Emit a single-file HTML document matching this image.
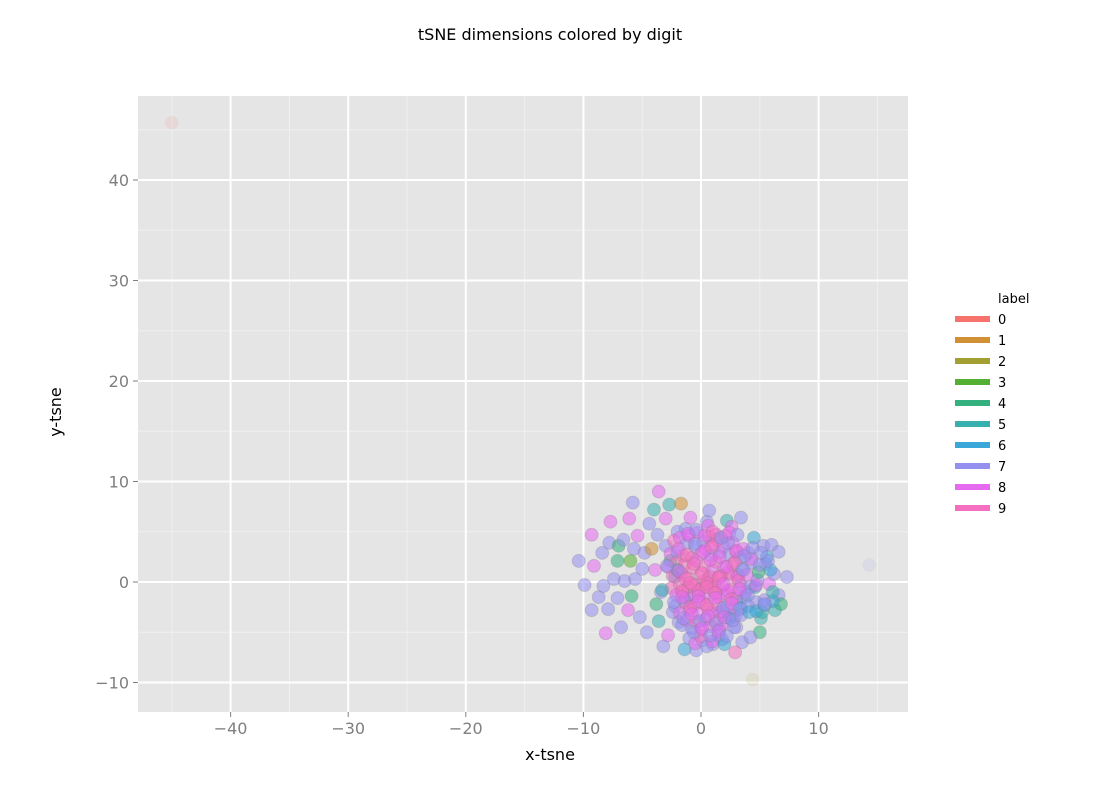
<!DOCTYPE html>
<html><head><meta charset="utf-8">
<style>
html,body{margin:0;padding:0;background:#fff;width:1100px;height:800px;overflow:hidden}
svg{display:block;font-family:"DejaVu Sans","Liberation Sans",sans-serif}
</style></head>
<body>
<svg id="chart" width="1100" height="800">
  <text x="550" y="40" text-anchor="middle" font-size="16" fill="#000">tSNE dimensions colored by digit</text>
  <rect x="138" y="96" width="770" height="616" fill="#e5e5e5"/>
  <g id="grid"></g>
  <g id="points"></g>
  <g id="axes"></g>
  <text x="550" y="760" text-anchor="middle" font-size="16" fill="#000">x-tsne</text>
  <text transform="translate(61,412) rotate(-90)" text-anchor="middle" font-size="16" fill="#000">y-tsne</text>
  <g id="legend">
    <text x="998" y="303" font-size="13" fill="#000">label</text>
  </g>
</svg>
<script>
const xTicks = [-40, -30, -20, -10, 0, 10];
const yTicks = [-10, 0, 10, 20, 30, 40];
const xMinor = [-45, -35, -25, -15, -5, 5, 15];
const yMinor = [-5, 5, 15, 25, 35, 45];
const labelNames = ['0','1','2','3','4','5','6','7','8','9'];
const labelColors = ['#f5736b','#d09033','#a3a033','#53b032','#33b07e','#38b0b0','#3ba6d8','#9590f0','#e66af0','#f46fbf'];

// scatter data (x-tsne, y-tsne, digit label)
const xs = [-45,14.3,4.4,
 -10.4,-9.9,-9.3,-9.3,-9.1,-8.7,-8.4,-8.3,-8.1,-7.9,-7.8,-7.7,-7.4,-7.1,-7.1,-7.0,-6.8,-6.6,-6.5,-6.2,-6.1,-6.0,-5.9,-5.8,-5.7,-5.6,-5.4,-5.2,-5.0,-4.8,-4.6,-4.4,-4.2,-4.0,-3.9,-3.8,-3.7,-3.6,-3.4,-3.2,-3.0,-2.8,-2.7,-2.6,-2.4,-2.2,-2.0,-1.7,-1.9,-1.4,-1.3,-1.2,
 0.5,0.6,1.0,1.3,1.6,2.2,2.6,3.0,3.4,3.5,4.0,4.5,4.7,5.0,5.3,5.8,6.0,6.3,6.6,6.6,7.3,5.5,3.2,2.5,-0.4,0.1,1.8,6.2,5.1,4.2,3.7,6.8,5.9,4.8,2.9,
 -3.0,-2.6,-2.3,-2.0,-1.8,-1.5,-1.2,-1.0,-0.8,-0.5,-0.3,0.0,0.2,0.4,0.7,0.9,1.1,1.4,1.6,1.9,2.1,2.4,2.7,3.0,3.3,3.6,
 -2.8,-2.4,-2.1,-1.7,-1.4,-1.1,-0.7,-0.4,0.0,0.3,0.6,1.0,1.3,1.7,2.0,2.3,2.7,3.1,3.5,3.9,4.3,
 -2.5,-2.1,-1.8,-1.5,-1.1,-0.8,-0.5,-0.2,0.1,0.4,0.8,1.1,1.5,1.8,2.2,2.6,3.0,3.4,3.8,4.2,
 -2.2,-1.8,-1.4,-1.0,-0.6,-0.2,0.2,0.6,1.0,1.4,1.8,2.2,2.6,3.0,3.4,
 -1.6,-1.2,-0.8,-0.4,0.0,0.4,0.8,1.2,1.6,2.0,2.4,2.8,
 -1.0,-0.5,0.0,0.5,1.0,1.5,2.0,-0.7,0.3,1.2,0.8,-0.2,0.5,1.6,2.3,3.2,-1.4,-2.0,4.6,5.2,5.6,6.1,4.9,5.4,-3.3,-3.6,-2.9,-0.9,0.7,2.9,
 -1.9,-1.3,-0.6,0.1,0.8,1.5,2.2,2.9,3.6,4.3,5.0,5.7,-1.6,-0.9,-0.2,0.5,1.2,1.9,2.6,3.3,4.0,4.7,5.4,6.1,
 -2.3,-1.6,-0.9,-0.2,0.5,1.2,1.9,2.6,3.3,4.0,4.7,5.4,-1.9,-1.2,-0.5,0.2,0.9,1.6,2.3,3.0,3.7,4.4,5.1,
 -1.5,-0.8,-0.1,0.6,1.3,2.0,2.7,3.4,4.1,-1.1,-0.4,0.3,1.0,1.7,2.4,3.1,-0.6,0.1,0.8,1.5,2.2];
const ys = [45.7,1.7,-9.7,
 2.1,-0.3,4.7,-2.8,1.6,-1.5,2.9,-0.4,-5.1,-2.7,3.9,6.0,0.3,-1.6,2.1,3.6,-4.5,4.2,0.1,-2.8,6.3,2.1,-1.4,7.9,3.3,0.3,4.6,-3.5,1.3,2.9,-5.0,5.8,3.3,7.2,1.2,-2.2,4.7,9.0,-1.0,-6.4,6.3,-5.3,7.7,2.1,-3.0,0.5,5.0,7.8,-4.0,-6.7,5.3,-1.5,
 6.0,5.6,-6.2,4.7,-3.0,6.1,5.5,-4.5,6.4,-6.0,2.9,4.4,-2.0,-5.0,3.6,-0.2,3.7,-2.8,-1.3,3.0,0.5,1.8,0.7,0.7,-6.8,-5.8,-5.7,0.8,-3.6,-5.5,-1.5,-2.2,1.2,0.2,-3.4,
 3.6,2.8,4.1,3.0,4.4,2.6,3.9,4.6,2.4,3.5,4.9,2.8,4.0,3.2,4.5,2.6,3.7,4.2,2.9,3.5,4.6,2.7,3.9,3.0,2.4,3.3,
 1.5,0.6,1.9,0.9,1.7,0.4,1.4,2.1,0.8,1.6,0.3,1.2,2.0,0.6,1.5,0.9,1.8,0.5,1.3,0.7,1.9,
 -0.6,-1.3,-0.2,-1.0,-0.5,-1.6,-0.3,-1.1,-0.6,-1.4,-0.2,-0.9,-1.5,-0.4,-1.2,-0.7,-1.6,-0.3,-1.0,-0.5,
 -2.4,-3.1,-2.0,-2.8,-2.3,-3.2,-2.1,-2.7,-3.0,-2.2,-2.9,-2.5,-3.3,-2.0,-2.6,
 -4.3,-3.8,-4.6,-4.0,-4.8,-3.7,-4.4,-3.9,-4.7,-4.1,-3.6,-4.5,
 -5.6,-6.1,-5.4,-6.4,-5.9,-5.3,-6.2,-0.3,0.1,-0.4,0.5,-0.8,-0.1,0.6,-0.9,0.1,-1.8,1.2,-0.5,-3.0,2.5,-1.9,1.0,-2.3,-0.8,-3.9,1.6,6.4,7.1,-7.0,
 1.1,0.3,1.8,0.9,2.2,0.4,1.5,2.0,1.2,2.3,1.7,2.1,-0.9,-0.1,-1.4,-0.5,-1.1,-0.2,-1.7,-0.7,-1.3,-0.3,-1.8,-1.0,
 -2.0,-1.5,-2.5,-1.9,-2.3,-1.6,-2.6,-2.1,-2.7,-2.4,-2.9,-2.2,3.3,2.7,3.8,3.0,3.5,2.5,3.9,3.1,2.6,3.4,2.9,
 -3.6,-3.2,-3.9,-3.4,-4.1,-3.5,-3.8,-3.3,-3.0,4.8,5.2,4.6,5.0,4.4,4.9,4.7,-5.0,-4.6,-5.3,-4.9,-5.4];
const labels = [0,7,2,
 7,7,8,7,8,7,7,7,8,7,7,8,7,7,4,4,7,7,7,8,8,3,4,7,7,7,8,7,7,7,7,7,1,5,8,4,7,8,7,7,8,8,5,4,7,6,7,1,7,6,7,7,
 7,8,7,8,7,5,8,7,7,7,7,6,7,4,7,8,7,5,7,7,7,7,9,9,7,7,7,7,5,7,6,4,6,7,7,
 7,8,9,7,8,9,7,8,9,7,8,9,7,8,9,7,8,9,7,8,9,7,8,9,7,8,
 8,9,9,8,9,9,9,8,9,9,9,8,9,9,8,9,9,8,7,8,7,
 9,8,9,9,9,8,9,9,9,8,9,9,8,9,8,9,8,7,8,7,
 7,8,9,8,9,8,9,9,8,9,8,7,8,7,6,
 7,8,7,9,8,7,8,9,7,8,6,7,
 7,8,9,7,8,7,6,9,9,9,9,9,9,9,8,9,7,5,6,5,6,6,4,6,5,5,7,8,7,9,
 8,9,9,9,8,9,8,9,7,8,7,7,9,9,8,9,9,8,9,8,7,8,7,5,
 7,8,9,8,9,8,7,8,7,7,6,7,8,9,7,8,9,8,7,8,7,7,7,
 7,8,7,8,7,8,7,7,6,8,7,8,9,7,8,7,7,8,7,8,7];

const xPx = v => 701 + (v) * 11.76;
const yPx = v => 582 - (v) * 10.05;
const NS = 'http://www.w3.org/2000/svg';
function mk(tag, attrs, parent){const e=document.createElementNS(NS,tag);for(const k in attrs)e.setAttribute(k,attrs[k]);parent.appendChild(e);return e;}

const grid = document.getElementById('grid');
xMinor.forEach(v=>{const l=mk('line',{x1:xPx(v),x2:xPx(v),y1:96,y2:712,stroke:'#f0f0f0','stroke-width':1},grid);

});
yMinor.forEach(v=>{const l=mk('line',{x1:138,x2:908,y1:yPx(v),y2:yPx(v),stroke:'#f0f0f0','stroke-width':1},grid);

});
xTicks.forEach(v=>{const l=mk('line',{x1:xPx(v),x2:xPx(v),y1:96,y2:712,stroke:'#fff','stroke-width':2},grid);

});
yTicks.forEach(v=>{const l=mk('line',{x1:138,x2:908,y1:yPx(v),y2:yPx(v),stroke:'#fff','stroke-width':2},grid);

});

const pts = document.getElementById('points');
xs.forEach((x,i)=>{
  const faint = i<3;
  const c=mk('circle',{cx:xPx(x),cy:yPx(ys[i]),r:6.5,fill:labelColors[labels[i]],'fill-opacity':faint?0.12:0.55,stroke:'#777','stroke-opacity':faint?0.03:0.25,'stroke-width':1},pts);
  
  
});

const axes = document.getElementById('axes');
xTicks.forEach(v=>{
  const t=mk('line',{x1:xPx(v),x2:xPx(v),y1:712,y2:717,stroke:'#7f7f7f','stroke-width':1},axes);
  
  
  const s=mk('text',{x:xPx(v),y:734,'text-anchor':'middle','font-size':16,fill:'#7f7f7f'},axes);
  s.textContent = v<0 ? '\u2212'+(-v) : String(v);
  
  
});
yTicks.forEach(v=>{
  const t=mk('line',{x1:133,x2:138,y1:yPx(v),y2:yPx(v),stroke:'#7f7f7f','stroke-width':1},axes);
  
  
  const s=mk('text',{x:129,y:yPx(v)+6,'text-anchor':'end','font-size':16,fill:'#7f7f7f'},axes);
  s.textContent = v<0 ? '\u2212'+(-v) : String(v);
  
  
});

const leg = document.getElementById('legend');
labelNames.forEach((n,i)=>{
  const y=319+i*21;
  const r=mk('rect',{x:955,y:y-3,width:35,height:6,fill:labelColors[i]},leg);
  
  
  const t=mk('text',{x:998,y:y+5,'font-size':13,fill:'#000'},leg);
  t.textContent=n;
  
  
});
</script>
</body></html>
